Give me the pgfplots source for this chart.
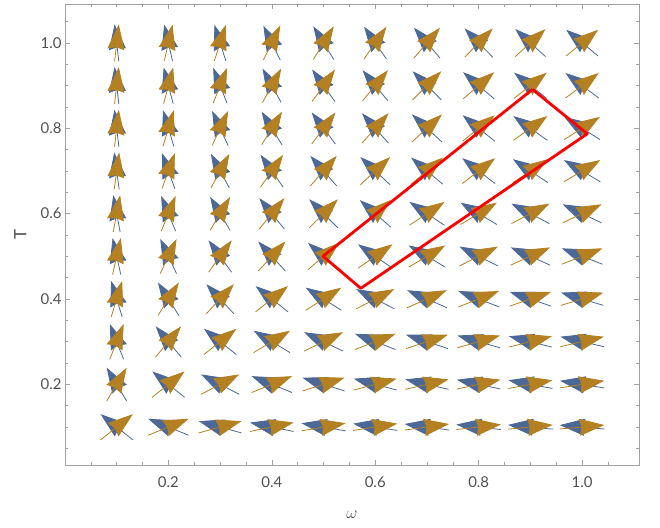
\documentclass[border=0pt]{standalone}
\usepackage{pgfplots}
\pgfplotsset{compat=1.18}
\usepackage{pgfplotstable}
\usepackage{fontspec}
\setmainfont{Lato}
\usetikzlibrary{arrows.meta}

\definecolor{blueA}{RGB}{76,104,151}
\definecolor{goldA}{RGB}{180,128,33}
\definecolor{frameC}{RGB}{160,160,160}
\definecolor{labelC}{RGB}{80,80,80}

% measured arrow directions (gold field); blue field is the mirror image
% dx, dy: screen displacement tail->tip (zoomed pixels)
\pgfplotstableread{
x y dx dy
0.1 1.0 13 116
0.2 1.0 25 110
0.3 1.0 35 110
0.4 1.0 50 102
0.5 1.0 63 102
0.6 1.0 68 98
0.7 1.0 80 93
0.8 1.0 85 87
0.9 1.0 90 82
1.0 1.0 95 78
0.1 0.9 13 113
0.2 0.9 28 107
0.3 0.9 40 102
0.4 0.9 55 100
0.5 0.9 68 95
0.6 0.9 73 88
0.7 0.9 85 85
0.8 0.9 93 80
0.9 0.9 95 75
1.0 0.9 97 73
0.1 0.8 13 110
0.2 0.8 32 107
0.3 0.8 47 102
0.4 0.8 60 98
0.5 0.8 72 96
0.6 0.8 77 87
0.7 0.8 89 82
0.8 0.8 93 75
0.9 0.8 98 70
1.0 0.8 105 67
0.1 0.7 14 105
0.2 0.7 37 102
0.3 0.7 53 98
0.4 0.7 65 93
0.5 0.7 79 90
0.6 0.7 88 82
0.7 0.7 95 80
0.8 0.7 97 75
0.9 0.7 100 67
1.0 0.7 107 64
0.1 0.6 20 107
0.2 0.6 43 105
0.3 0.6 58 97
0.4 0.6 73 90
0.5 0.6 85 85
0.6 0.6 88 77
0.7 0.6 102 68
0.8 0.6 108 65
0.9 0.6 110 58
1.0 0.6 115 55
0.1 0.5 24 107
0.2 0.5 48 102
0.3 0.5 67 93
0.4 0.5 80 87
0.5 0.5 93 80
0.6 0.5 105 73
0.7 0.5 110 65
0.8 0.5 115 58
0.9 0.5 118 53
1.0 0.5 120 47
0.1 0.4 33 108
0.2 0.4 65 103
0.3 0.4 82 88
0.4 0.4 97 77
0.5 0.4 107 68
0.6 0.4 112 58
0.7 0.4 118 52
0.8 0.4 123 48
0.9 0.4 124 43
1.0 0.4 126 38
0.1 0.3 42 107
0.2 0.3 77 93
0.3 0.3 98 78
0.4 0.3 108 65
0.5 0.3 117 57
0.6 0.3 123 48
0.7 0.3 127 42
0.8 0.3 128 37
0.9 0.3 130 33
1.0 0.3 130 30
0.1 0.2 60 100
0.2 0.2 100 80
0.3 0.2 115 60
0.4 0.2 123 50
0.5 0.2 127 40
0.6 0.2 128 34
0.7 0.2 130 30
0.8 0.2 130 28
0.9 0.2 133 25
1.0 0.2 135 22
0.1 0.1 98 78
0.2 0.1 123 50
0.3 0.1 127 35
0.4 0.1 132 27
0.5 0.1 133 23
0.6 0.1 130 20
0.7 0.1 133 18
0.8 0.1 134 15
0.9 0.1 136 13
1.0 0.1 137 12
}\vecdata
% half-vector in data units, normalised length
\pgfplotstablecreatecol[create col/expr={0.0435*(\thisrow{dx}/1550)/sqrt((\thisrow{dx}/1550)^2+(\thisrow{dy}/1280)^2)}]{hu}{\vecdata}
\pgfplotstablecreatecol[create col/expr={0.0435*(\thisrow{dy}/1280)/sqrt((\thisrow{dx}/1550)^2+(\thisrow{dy}/1280)^2)}]{hv}{\vecdata}

\begin{document}
\begin{tikzpicture}
\begin{axis}[
  scale only axis,
  width=574bp, height=461bp,
  xmin=0, xmax=1.11, ymin=0.011, ymax=1.091,
  clip=false,
  xtick={0.2,0.4,0.6,0.8,1.0},
  xticklabels={0.2,0.4,0.6,0.8,1.0},
  ytick={0.2,0.4,0.6,0.8,1.0},
  yticklabels={0.2,0.4,0.6,0.8,1.0},
  minor xtick={0.05,0.1,0.15,0.25,0.3,0.35,0.45,0.5,0.55,0.65,0.7,0.75,0.85,0.9,0.95,1.05},
  minor ytick={0.05,0.1,0.15,0.25,0.3,0.35,0.45,0.5,0.55,0.65,0.7,0.75,0.85,0.9,0.95,1.05},
  tick align=inside,
  major tick length=5bp, minor tick length=3bp,
  tick style={draw=frameC, line width=0.6bp},
  axis line style={draw=frameC, line width=0.8bp},
  every tick label/.append style={font=\fontsize{15}{18}\selectfont, text=labelC},
  xticklabel style={yshift=-8bp},
  xlabel={$\omega$}, ylabel={T},
  label style={font=\fontsize{17}{20}\selectfont, text=labelC},
  x label style={at={(axis description cs:0.5,-0.108)}, anchor=center},
  y label style={at={(axis description cs:-0.078,0.5)}, anchor=center, rotate=0},
]
\addplot[blueA, line width=0.8bp, -{Stealth[length=25bp,width=17bp,inset=2bp]},
  quiver={u={-2*\thisrow{hu}}, v={2*\thisrow{hv}}}]
  table[x expr={\thisrow{x}+\thisrow{hu}}, y expr={\thisrow{y}-\thisrow{hv}}] {\vecdata};
\addplot[goldA, line width=0.8bp, -{Stealth[length=25bp,width=17bp,inset=2bp]},
  quiver={u={2*\thisrow{hu}}, v={2*\thisrow{hv}}}]
  table[x expr={\thisrow{x}-\thisrow{hu}}, y expr={\thisrow{y}-\thisrow{hv}}] {\vecdata};
\addplot[red, line width=2.8bp, line join=round] coordinates {
  (0.904,0.891) (1.010,0.787) (0.572,0.425) (0.499,0.500) (0.904,0.891)};
\path (rel axis cs:-0.1132,-0.1345) rectangle (rel axis cs:1.0366,1.0087);
\end{axis}
\end{tikzpicture}
\end{document}
